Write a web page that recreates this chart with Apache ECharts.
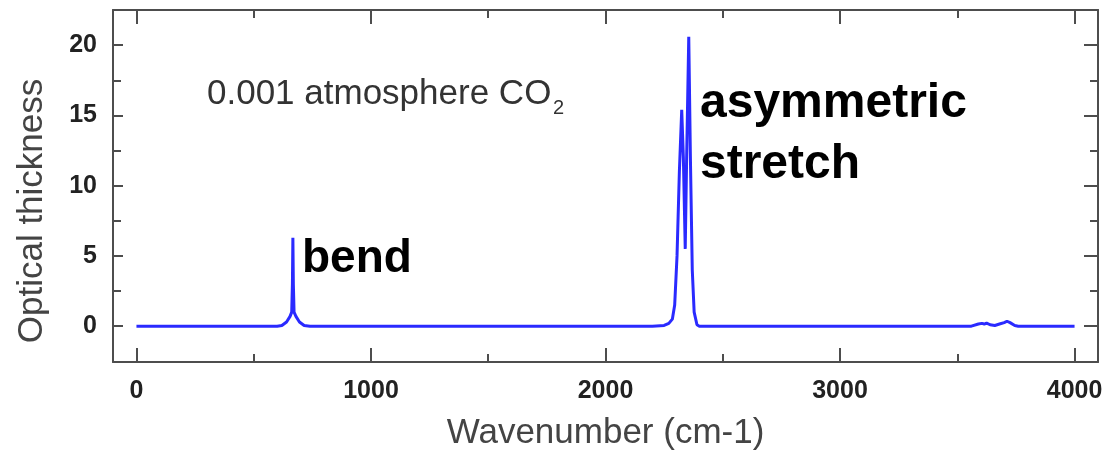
<!DOCTYPE html>
<html>
<head>
<meta charset="utf-8">
<script src="https://cdn.jsdelivr.net/npm/echarts@6/dist/echarts.min.js"></script>
<style>
  html, body { margin: 0; padding: 0; background: #fff; }
  #chart { width: 1107px; height: 459px; }
</style>
</head>
<body>
<div id="chart"></div>
<script>
// CO2 absorption spectrum at 0.001 atm: wavenumber (cm-1) vs optical thickness
const wavenumber = [
  0, 600, 620, 640, 655, 662, 665, 667, 669, 672, 680, 695, 715, 740,
  2200, 2250, 2270, 2285, 2295, 2305, 2315, 2325, 2332, 2340, 2346, 2355, 2362, 2370, 2378, 2390, 2400,
  3560, 3590, 3605, 3615, 3625, 3640, 3660, 3680, 3700, 3712, 3725, 3745, 3760, 4000
];
const opticalThickness = [
  0, 0, 0.05, 0.3, 0.7, 1.0, 3.0, 6.3, 3.0, 1.0, 0.7, 0.3, 0.05, 0,
  0, 0.05, 0.2, 0.5, 1.5, 5.0, 11.0, 15.4, 12.0, 5.5, 12.0, 20.6, 12.0, 4.0, 1.0, 0.1, 0,
  0, 0.15, 0.2, 0.15, 0.22, 0.1, 0.05, 0.15, 0.25, 0.35, 0.25, 0.05, 0, 0
];

// Axis ranges and tick values
const xRange = [-100, 4100];
const yRange = [-2.55, 22.5];
const xMajorTicks = [0, 1000, 2000, 3000, 4000];
const xMinorTicks = [500, 1500, 2500, 3500];
const yMajorTicks = [0, 5, 10, 15, 20];
const yMinorTicks = [-2.5, 2.5, 7.5, 12.5, 17.5];

const FONT = 'Liberation Sans, Arial, Helvetica, sans-serif';
const AXIS_COLOR = '#4d4d4d';

function plainNumber(v) { return String(v); }

function xAxisDef(position, ticks, len, withLabels, withLine, extra) {
  return Object.assign({
    type: 'value', position: position, min: xRange[0], max: xRange[1],
    axisLine: { show: withLine, onZero: false, lineStyle: { color: AXIS_COLOR, width: 2 } },
    axisTick: { show: true, inside: true, length: len, customValues: ticks,
                lineStyle: { color: AXIS_COLOR, width: 2 } },
    axisLabel: withLabels ? {
      show: true, customValues: ticks, margin: 17, formatter: plainNumber,
      fontFamily: FONT, fontWeight: 'bold', fontSize: 25, color: '#222'
    } : { show: false },
    splitLine: { show: false }
  }, extra || {});
}

function yAxisDef(position, ticks, len, withLabels, withLine, extra) {
  return Object.assign({
    type: 'value', position: position, min: yRange[0], max: yRange[1],
    axisLine: { show: withLine, onZero: false, lineStyle: { color: AXIS_COLOR, width: 2 } },
    axisTick: { show: true, inside: true, length: len, customValues: ticks,
                lineStyle: { color: AXIS_COLOR, width: 2 } },
    axisLabel: withLabels ? {
      show: true, customValues: ticks, margin: 16, formatter: plainNumber,
      fontFamily: FONT, fontWeight: 'bold', fontSize: 25, color: '#222'
    } : { show: false },
    splitLine: { show: false }
  }, extra || {});
}

const chart = echarts.init(document.getElementById('chart'), null, { renderer: 'canvas' });

chart.setOption({
  animation: false,
  backgroundColor: '#fff',
  grid: { left: 113, right: 9, top: 10, bottom: 97, containLabel: false },
  xAxis: [
    xAxisDef('bottom', xMajorTicks, 14, true, true, {
      name: 'Wavenumber (cm-1)', nameLocation: 'middle', nameGap: 54,
      nameTextStyle: { fontFamily: FONT, fontSize: 35, color: '#444' }
    }),
    xAxisDef('bottom', xMinorTicks, 8, false, false),
    xAxisDef('top', xMajorTicks, 14, false, true),
    xAxisDef('top', xMinorTicks, 8, false, false)
  ],
  yAxis: [
    yAxisDef('left', yMajorTicks, 10, true, true, {
      name: 'Optical thickness', nameLocation: 'middle', nameGap: 63,
      nameTextStyle: { fontFamily: FONT, fontSize: 35, color: '#444', padding: [0, 50, 0, 0] }
    }),
    yAxisDef('left', yMinorTicks, 8, false, false),
    yAxisDef('right', yMajorTicks, 14, false, true),
    yAxisDef('right', yMinorTicks, 8, false, false)
  ],
  series: [{
    type: 'line',
    xAxisIndex: 0, yAxisIndex: 0,
    data: wavenumber.map((w, i) => [w, opticalThickness[i]]),
    showSymbol: false,
    smooth: false,
    lineStyle: { color: '#2a2aff', width: 3 },
    silent: true
  }],
  graphic: [
    { type: 'text', left: 207, top: 94 - 17.5, style: {
        text: '0.001 atmosphere CO', fontFamily: FONT, fontSize: 35, fill: '#333' } },
    { type: 'text', left: 553, top: 108 - 10, style: {
        text: '2', fontFamily: FONT, fontSize: 20, fill: '#333' } },
    { type: 'text', left: 302, top: 259 - 23, style: {
        text: 'bend', fontFamily: FONT, fontWeight: 'bold', fontSize: 46, fill: '#000' } },
    { type: 'text', left: 700, top: 104 - 24, style: {
        text: 'asymmetric', fontFamily: FONT, fontWeight: 'bold', fontSize: 48, fill: '#000' } },
    { type: 'text', left: 700, top: 165 - 24, style: {
        text: 'stretch', fontFamily: FONT, fontWeight: 'bold', fontSize: 48, fill: '#000' } }
  ]
});
</script>
</body>
</html>
